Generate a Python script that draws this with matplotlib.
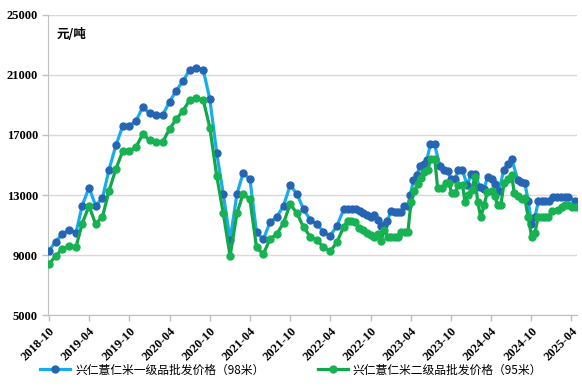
import matplotlib
matplotlib.use('Agg')
import matplotlib.pyplot as plt
import matplotlib.dates as mdates
import pandas as pd

plt.rcParams['font.family'] = ['Noto Sans CJK SC', 'DejaVu Sans']

# monthly prices 2018-10 .. 2022-05
monthly_dates = pd.date_range('2018-10-01', '2022-05-01', freq='MS')
grade1_monthly = [9300, 9900, 10400, 10700, 10500, 12300, 13500, 12300, 12800, 14700,
                  16300, 17600, 17600, 17950, 18850, 18450, 18330, 18330, 19220, 19950,
                  20600, 21330, 21490, 21330, 19380, 15820, 13070, 10000, 13070, 14450,
                  14070, 10510, 10050, 11180, 11550, 12290, 13670, 13050, 12050, 11330,
                  11050, 10550, 10290, 10930]
grade2_monthly = [8400, 8950, 9400, 9620, 9550, 11100, 12270, 11070, 11550, 13290,
                  14730, 15930, 15900, 16220, 17050, 16670, 16550, 16550, 17400, 18050,
                  18600, 19330, 19450, 19330, 17490, 14290, 11780, 8930, 11780, 13070,
                  12710, 9510, 9070, 10070, 10400, 11150, 12400, 11780, 10850, 10220,
                  10000, 9510, 9270, 9850]

# denser quotes from 2022-06 on
grade1_late_dates = ['2022-06-01', '2022-06-20', '2022-07-09', '2022-07-27', '2022-08-14',
                     '2022-08-30', '2022-09-15', '2022-10-01', '2022-10-17', '2022-11-02',
                     '2022-11-18', '2022-11-29', '2022-12-17', '2023-01-02', '2023-01-18',
                     '2023-02-02', '2023-02-16', '2023-03-04', '2023-03-18', '2023-03-31',
                     '2023-04-14', '2023-04-30', '2023-05-13', '2023-05-30', '2023-06-14',
                     '2023-06-30', '2023-07-19', '2023-08-12', '2023-08-31', '2023-09-18',
                     '2023-10-01', '2023-10-20', '2023-11-04', '2023-11-22', '2023-12-14',
                     '2024-01-02', '2024-01-18', '2024-02-09', '2024-02-27', '2024-03-16',
                     '2024-04-04', '2024-04-18', '2024-05-06', '2024-05-29', '2024-06-16',
                     '2024-07-04', '2024-07-31', '2024-08-16', '2024-09-01', '2024-09-17',
                     '2024-10-01', '2024-10-17', '2024-11-02', '2024-11-17', '2024-12-03',
                     '2024-12-19', '2025-01-06', '2025-01-27', '2025-02-14', '2025-03-02',
                     '2025-03-18', '2025-04-16']
grade1_late = [12050, 12050, 12050, 12050, 11950, 11820, 11700, 11550, 11700, 11350,
               10950, 11000, 11300, 11950, 11850, 11850, 11850, 12270, 12270, 13000,
               14000, 14330, 14930, 15100, 15350, 16380, 16380, 14930, 14670, 14580,
               14100, 14050, 14670, 14670, 13670, 14400, 14400, 13550, 13380, 14180,
               14050, 13730, 13270, 14700, 15050, 15380, 14000, 13900, 13780, 12600,
               11100, 11550, 12600, 12600, 12600, 12600, 12900, 12900, 12900, 12900,
               12900, 12600]

grade2_late_dates = ['2022-06-01', '2022-06-20', '2022-07-06', '2022-07-22', '2022-08-09',
                     '2022-08-28', '2022-09-15', '2022-10-03', '2022-10-19', '2022-11-04',
                     '2022-11-18', '2022-12-02', '2022-12-18', '2023-01-02', '2023-01-18',
                     '2023-02-03', '2023-02-18', '2023-03-06', '2023-03-20', '2023-04-03',
                     '2023-04-18', '2023-05-03', '2023-05-18', '2023-06-02', '2023-06-17',
                     '2023-07-02', '2023-07-20', '2023-08-02', '2023-08-20', '2023-09-09',
                     '2023-09-24', '2023-10-04', '2023-10-19', '2023-11-03', '2023-11-23',
                     '2023-12-04', '2023-12-16', '2024-01-03', '2024-01-18', '2024-01-31',
                     '2024-02-14', '2024-02-29', '2024-03-15', '2024-04-03', '2024-04-18',
                     '2024-04-30', '2024-05-15', '2024-05-30', '2024-06-15', '2024-07-03',
                     '2024-07-15', '2024-08-02', '2024-08-17', '2024-09-01', '2024-09-16',
                     '2024-10-02', '2024-10-17', '2024-11-01', '2024-11-16', '2024-12-01',
                     '2024-12-16', '2025-01-04', '2025-01-28', '2025-02-15', '2025-03-02',
                     '2025-03-17', '2025-04-02', '2025-04-21']
grade2_late = [10890, 11270, 11270, 11220, 10780, 10670, 10490, 10330, 10180, 10400,
               9950, 10670, 10220, 10180, 10180, 10180, 10550, 10550, 10550, 12550,
               13270, 13730, 14110, 14550, 14670, 15380, 15380, 13450, 13450, 13780,
               13780, 13110, 13110, 13670, 13670, 12550, 13000, 13330, 14180, 12550,
               11510, 12330, 13220, 13290, 12930, 12330, 12330, 13820, 14040, 14330,
               13150, 12930, 12710, 12780, 11550, 10220, 10490, 11550, 11550, 11550,
               11550, 11950, 12000, 12180, 12330, 12330, 12220, 12220]

label1 = '兴仁薏仁米一级品批发价格（98米）'
label2 = '兴仁薏仁米二级品批发价格（95米）'

d1 = list(monthly_dates) + list(pd.to_datetime(grade1_late_dates))
v1 = grade1_monthly + grade1_late
d2 = list(monthly_dates) + list(pd.to_datetime(grade2_late_dates))
v2 = grade2_monthly + grade2_late

fig = plt.figure(figsize=(5.82, 3.91), dpi=100)
ax = fig.add_axes([0.083, 0.194, 0.908, 0.768])

ax.plot(d1, v1, color='#19ACEB', lw=2.3, marker='o', markersize=5,
        markerfacecolor='#2565B3', markeredgecolor='#2565B3', label=label1, zorder=3)
ax.plot(d2, v2, color='#10A84A', lw=2.3, marker='o', markersize=5,
        markerfacecolor='#17B352', markeredgecolor='#17B352', label=label2, zorder=4)

ax.set_ylim(5000, 25000)
ax.set_yticks(range(5000, 25001, 4000))
ax.set_xlim(pd.Timestamp('2018-09-28'), pd.Timestamp('2025-04-25'))
ax.xaxis.set_major_locator(mdates.MonthLocator(bymonth=[4, 10]))
ax.xaxis.set_major_formatter(mdates.DateFormatter('%Y-%m'))

ax.grid(axis='y', color='#D9D9D9', lw=1)
ax.set_axisbelow(True)
for s in ['top', 'right']:
    ax.spines[s].set_visible(False)
for s in ['left', 'bottom']:
    ax.spines[s].set_color('#BFBFBF')
ax.tick_params(axis='both', color='#BFBFBF', length=4, width=1)

for lab in ax.get_yticklabels():
    lab.set_fontfamily('Liberation Serif')
    lab.set_fontweight('bold')
    lab.set_fontsize(9)
for lab in ax.get_xticklabels():
    lab.set_fontfamily('Liberation Serif')
    lab.set_fontweight('bold')
    lab.set_fontsize(9)
    lab.set_rotation(45)
    lab.set_ha('right')
    lab.set_rotation_mode('anchor')

ax.text(0.015, 0.955, '元/吨', transform=ax.transAxes, fontsize=9, fontweight='bold',
        va='top', ha='left')

fig.legend(loc='lower center', bbox_to_anchor=(0.5, 0.01), ncol=2, frameon=False,
           fontsize=8.5, handlelength=2.6, columnspacing=4.5, handletextpad=0.4)

fig.savefig('out.png', dpi=100)
